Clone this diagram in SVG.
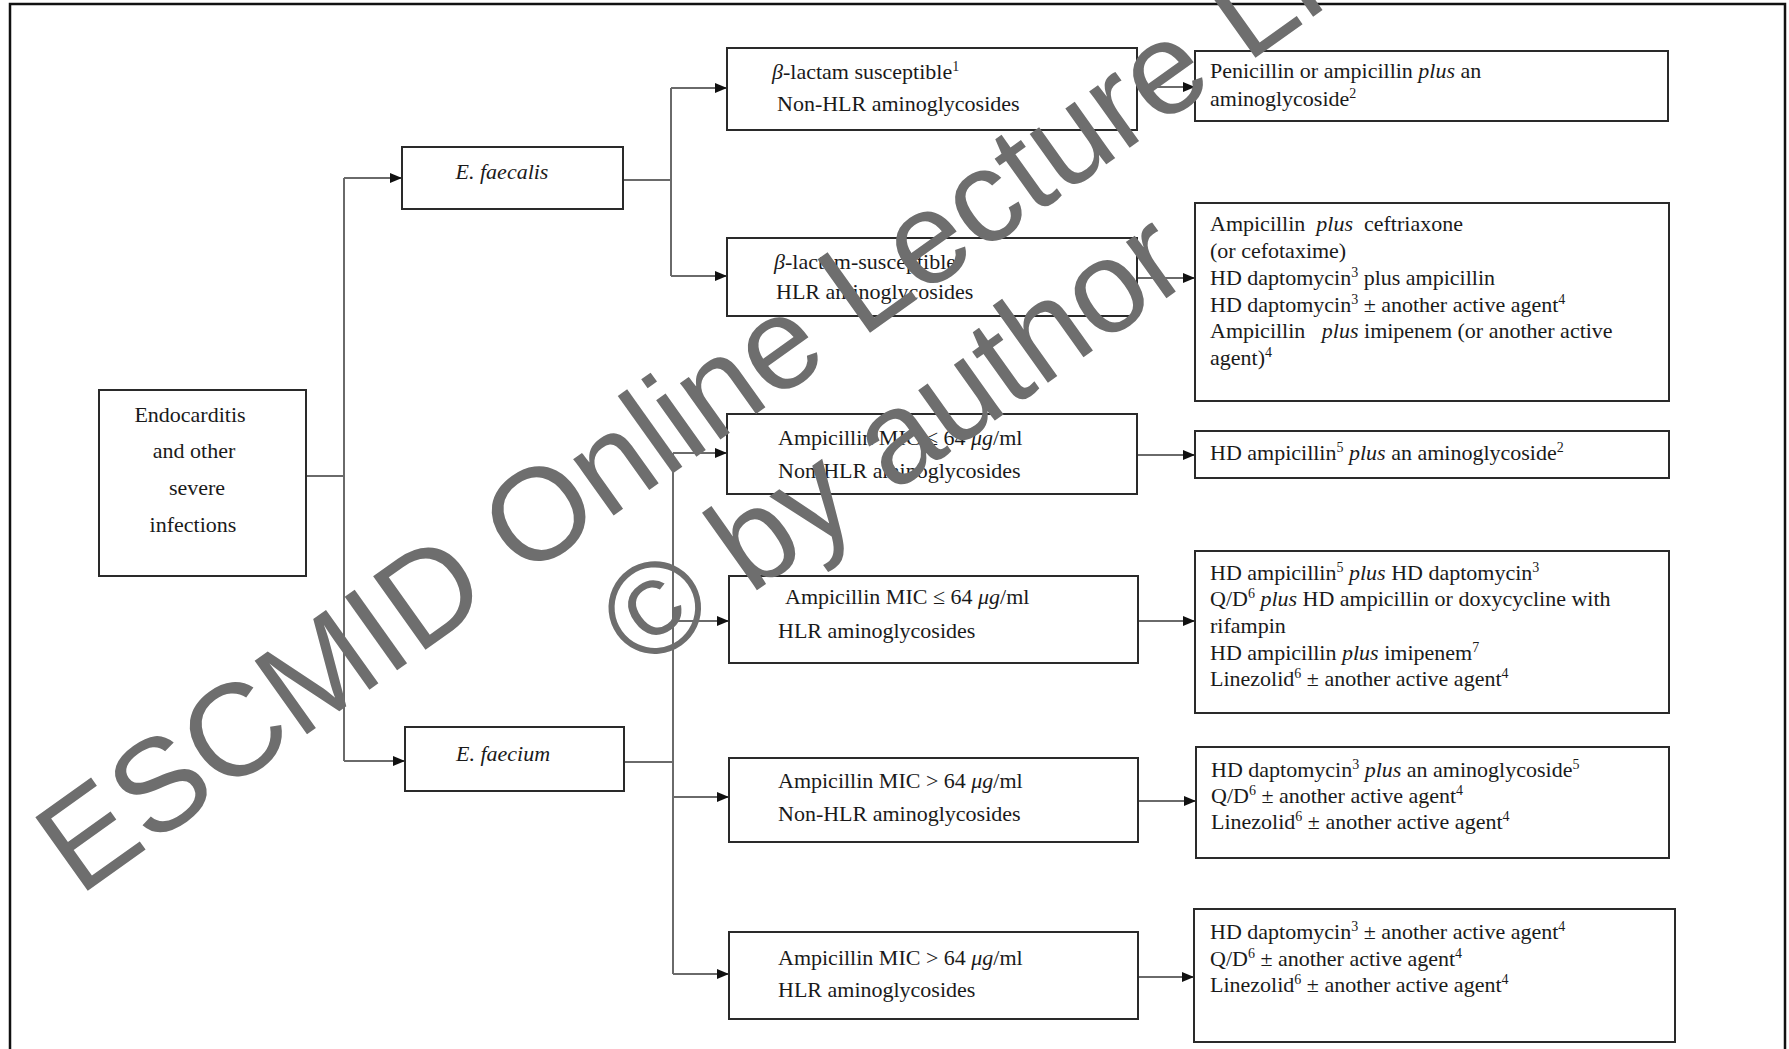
<svg xmlns="http://www.w3.org/2000/svg" width="1789" height="1049" viewBox="0 0 1789 1049">
<defs>
<marker id="arr" viewBox="0 0 12 10" refX="12" refY="5" markerWidth="12" markerHeight="10" markerUnits="userSpaceOnUse" orient="auto">
<path d="M0,0 L12,5 L0,10 Z" fill="#111"/>
</marker>
<style>
.box{fill:#fff;stroke:#2a2a2a;stroke-width:2}
.t{font-family:"Liberation Serif","Times New Roman",serif;font-size:22px;fill:#1a1a1a}
.i{font-style:italic}
.sup{font-size:14px;baseline-shift:8px}
.c{fill:none;stroke:#6a6a6a;stroke-width:2}
.wm{font-family:"Liberation Sans",Arial,sans-serif;font-size:131px;fill:#6e6e6e}
</style>
</defs>
<rect width="1789" height="1049" fill="#fff"/>
<path d="M10,1052 V4 H1785 V1052" fill="none" stroke="#111" stroke-width="2.5"/>

<g id="connectors">
<path class="c" d="M306,476 H344 M344,178 V761"/>
<path class="c" d="M344,178 H402" marker-end="url(#arr)"/>
<path class="c" d="M344,761 H405" marker-end="url(#arr)"/>
<path class="c" d="M623,180 H671 M671,88 V276"/>
<path class="c" d="M671,88 H727" marker-end="url(#arr)"/>
<path class="c" d="M671,276 H727" marker-end="url(#arr)"/>
<path class="c" d="M624,762 H673 M673,453 V974"/>
<path class="c" d="M673,453 H727" marker-end="url(#arr)"/>
<path class="c" d="M673,621 H729" marker-end="url(#arr)"/>
<path class="c" d="M673,797 H729" marker-end="url(#arr)"/>
<path class="c" d="M673,974 H729" marker-end="url(#arr)"/>
<path class="c" d="M1137,87 H1195" marker-end="url(#arr)"/>
<path class="c" d="M1137,278 H1195" marker-end="url(#arr)"/>
<path class="c" d="M1137,455 H1195" marker-end="url(#arr)"/>
<path class="c" d="M1138,621 H1195" marker-end="url(#arr)"/>
<path class="c" d="M1138,801 H1196" marker-end="url(#arr)"/>
<path class="c" d="M1138,977 H1194" marker-end="url(#arr)"/>
</g>

<g id="endocarditis">
<rect class="box" x="99" y="390" width="207" height="186"/>
<text class="t" text-anchor="middle"><tspan x="190" y="422">Endocarditis</tspan><tspan x="194" y="458">and other</tspan><tspan x="197" y="495">severe</tspan><tspan x="193" y="532">infections</tspan></text>
</g>

<g id="e-faecalis">
<rect class="box" x="402" y="147" width="221" height="62"/>
<text class="t i" x="502" y="179" text-anchor="middle">E. faecalis</text>
</g>

<g id="e-faecium">
<rect class="box" x="405" y="727" width="219" height="64"/>
<text class="t i" x="503" y="761" text-anchor="middle">E. faecium</text>
</g>

<g id="faecalis-nonhlr">
<rect class="box" x="727" y="48" width="410" height="82"/>
<text class="t" x="772" y="79"><tspan class="i">β</tspan>-lactam susceptible<tspan class="sup">1</tspan></text>
<text class="t" x="777" y="111">Non-HLR aminoglycosides</text>
</g>

<g id="faecalis-hlr">
<rect class="box" x="727" y="238" width="410" height="78"/>
<text class="t" x="774" y="269"><tspan class="i">β</tspan>-lactam-susceptible<tspan class="sup">1</tspan></text>
<text class="t" x="776" y="299">HLR aminoglycosides</text>
</g>

<g id="faecium-le64-nonhlr">
<rect class="box" x="727" y="414" width="410" height="80"/>
<text class="t" x="778" y="445">Ampicillin MIC ≤ 64 <tspan class="i">μg</tspan>/ml</text>
<text class="t" x="778" y="478">Non-HLR aminoglycosides</text>
</g>

<g id="faecium-le64-hlr">
<rect class="box" x="729" y="576" width="409" height="87"/>
<text class="t" x="785" y="604">Ampicillin MIC ≤ 64 <tspan class="i">μg</tspan>/ml</text>
<text class="t" x="778" y="638">HLR aminoglycosides</text>
</g>

<g id="faecium-gt64-nonhlr">
<rect class="box" x="729" y="758" width="409" height="84"/>
<text class="t" x="778" y="788">Ampicillin MIC &gt; 64 <tspan class="i">μg</tspan>/ml</text>
<text class="t" x="778" y="821">Non-HLR aminoglycosides</text>
</g>

<g id="faecium-gt64-hlr">
<rect class="box" x="729" y="932" width="409" height="87"/>
<text class="t" x="778" y="965">Ampicillin MIC &gt; 64 <tspan class="i">μg</tspan>/ml</text>
<text class="t" x="778" y="997">HLR aminoglycosides</text>
</g>

<g id="tx-1">
<rect class="box" x="1195" y="51" width="473" height="70"/>
<text class="t" x="1210" y="78">Penicillin or ampicillin <tspan class="i">plus</tspan> an</text>
<text class="t" x="1210" y="106">aminoglycoside<tspan class="sup">2</tspan></text>
</g>

<g id="tx-2">
<rect class="box" x="1195" y="203" width="474" height="198"/>
<text class="t" x="1210" y="231" xml:space="preserve">Ampicillin  <tspan class="i">plus</tspan>  ceftriaxone</text>
<text class="t" x="1210" y="258">(or cefotaxime)</text>
<text class="t" x="1210" y="285">HD daptomycin<tspan class="sup">3</tspan> plus ampicillin</text>
<text class="t" x="1210" y="312">HD daptomycin<tspan class="sup">3</tspan> ± another active agent<tspan class="sup">4</tspan></text>
<text class="t" x="1210" y="338" xml:space="preserve">Ampicillin   <tspan class="i">plus</tspan> imipenem (or another active</text>
<text class="t" x="1210" y="365">agent)<tspan class="sup">4</tspan></text>
</g>

<g id="tx-3">
<rect class="box" x="1195" y="431" width="474" height="47"/>
<text class="t" x="1210" y="460">HD ampicillin<tspan class="sup">5</tspan> <tspan class="i">plus</tspan> an aminoglycoside<tspan class="sup">2</tspan></text>
</g>

<g id="tx-4">
<rect class="box" x="1195" y="551" width="474" height="162"/>
<text class="t" x="1210" y="580">HD ampicillin<tspan class="sup">5</tspan> <tspan class="i">plus</tspan> HD daptomycin<tspan class="sup">3</tspan></text>
<text class="t" x="1210" y="606">Q/D<tspan class="sup">6</tspan> <tspan class="i">plus</tspan> HD ampicillin or doxycycline with</text>
<text class="t" x="1210" y="633">rifampin</text>
<text class="t" x="1210" y="660">HD ampicillin <tspan class="i">plus</tspan> imipenem<tspan class="sup">7</tspan></text>
<text class="t" x="1210" y="686">Linezolid<tspan class="sup">6</tspan> ± another active agent<tspan class="sup">4</tspan></text>
</g>

<g id="tx-5">
<rect class="box" x="1196" y="747" width="473" height="111"/>
<text class="t" x="1211" y="777">HD daptomycin<tspan class="sup">3</tspan> <tspan class="i">plus</tspan> an aminoglycoside<tspan class="sup">5</tspan></text>
<text class="t" x="1211" y="803">Q/D<tspan class="sup">6</tspan> ± another active agent<tspan class="sup">4</tspan></text>
<text class="t" x="1211" y="829">Linezolid<tspan class="sup">6</tspan> ± another active agent<tspan class="sup">4</tspan></text>
</g>

<g id="tx-6">
<rect class="box" x="1194" y="909" width="481" height="133"/>
<text class="t" x="1210" y="939">HD daptomycin<tspan class="sup">3</tspan> ± another active agent<tspan class="sup">4</tspan></text>
<text class="t" x="1210" y="966">Q/D<tspan class="sup">6</tspan> ± another active agent<tspan class="sup">4</tspan></text>
<text class="t" x="1210" y="992">Linezolid<tspan class="sup">6</tspan> ± another active agent<tspan class="sup">4</tspan></text>
</g>

<g id="watermark" transform="translate(79,897) rotate(-35.5)">
<text class="wm" x="0" y="0">ESCMID Online Lecture Library</text>
<text class="wm" x="928" y="144" text-anchor="middle">© by author</text>
</g>
</svg>
